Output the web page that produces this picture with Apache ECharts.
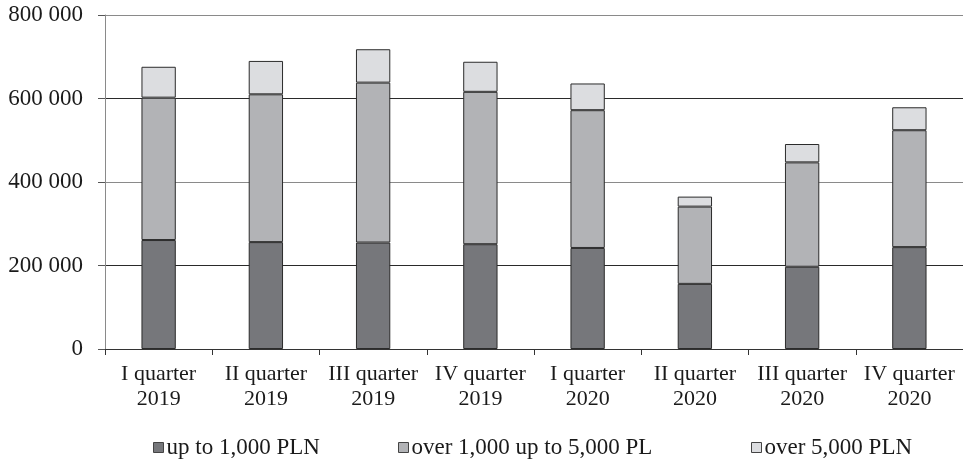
<!DOCTYPE html>
<html>
<head>
<meta charset="utf-8">
<style>
  html, body { margin: 0; padding: 0; background: #fff; }
  #chart { width: 963px; height: 459px; }
</style>
<script src="https://cdn.jsdelivr.net/npm/echarts@6/dist/echarts.min.js"></script>
</head>
<body>
<div id="chart"></div>
<script>
// Quarterly counts by amount bracket (stacked)
const categories = [
  'I quarter\n2019', 'II quarter\n2019', 'III quarter\n2019', 'IV quarter\n2019',
  'I quarter\n2020', 'II quarter\n2020', 'III quarter\n2020', 'IV quarter\n2020'
];
const seriesNames = ['up to 1,000 PLN', 'over 1,000 up to 5,000 PL', 'over 5,000 PLN'];
const upTo1000 = [261000, 256000, 255000, 251000, 242000, 156000, 197000, 244000];
const from1000to5000 = [341000, 354000, 383000, 365000, 330000, 185000, 250000, 280000];
const over5000 = [74000, 80000, 80000, 72000, 64000, 24000, 44000, 55000];
const yTicks = [0, 200000, 400000, 600000, 800000];

const FONT = '"Liberation Serif", "Times New Roman", serif';
const fills = ['#76777b', '#b2b3b6', '#dcdde0'];

const chart = echarts.init(document.getElementById('chart'), null, { renderer: 'canvas' });

function fmt(v) {
  return String(v).replace(/\B(?=(\d{3})+(?!\d))/g, ' ');
}

function barSeries(name, data, i) {
  return {
    name: name,
    type: 'bar',
    stack: 'total',
    data: data,
    barWidth: '32%',
    itemStyle: { color: fills[i], borderColor: '#2b2b2b', borderWidth: 1 },
    emphasis: { disabled: true }
  };
}

function legendAt(name, left) {
  return {
    data: [name],
    left: left,
    top: 431,
    icon: 'rect',
    itemWidth: 10,
    itemHeight: 10,
    itemGap: 0,
    itemStyle: { borderColor: '#444', borderWidth: 1 },
    textStyle: { fontFamily: FONT, fontSize: 23, color: '#1a1a1a', padding: [0, 0, 0, -2] },
    selectedMode: false
  };
}

chart.setOption({
  animation: false,
  backgroundColor: '#ffffff',
  grid: { left: 105, right: 0, top: 15, bottom: 110, containLabel: false },
  legend: [
    legendAt(seriesNames[0], 148),
    legendAt(seriesNames[1], 393),
    legendAt(seriesNames[2], 746)
  ],
  xAxis: {
    type: 'category',
    data: categories,
    boundaryGap: true,
    axisLine: { show: true, lineStyle: { color: '#333', width: 1 } },
    axisTick: { show: true, alignWithLabel: false, length: 6, lineStyle: { color: '#333' } },
    axisLabel: {
      fontFamily: FONT, fontSize: 22, color: '#1a1a1a',
      lineHeight: 25, margin: 13, interval: 0
    }
  },
  yAxis: {
    type: 'value',
    min: yTicks[0],
    max: yTicks[yTicks.length - 1],
    interval: yTicks[1] - yTicks[0],
    axisLine: { show: true, lineStyle: { color: '#8a8a8a', width: 1 } },
    axisTick: { show: true, length: 7, lineStyle: { color: '#555' } },
    axisLabel: {
      fontFamily: FONT, fontSize: 23, color: '#1a1a1a', margin: 22,
      formatter: fmt
    },
    splitLine: { show: true, lineStyle: { color: ['#333', '#2a2a2a', '#8a8a8a', '#2a2a2a', '#8a8a8a'], width: 1 } }
  },
  series: [
    barSeries(seriesNames[0], upTo1000, 0),
    barSeries(seriesNames[1], from1000to5000, 1),
    barSeries(seriesNames[2], over5000, 2)
  ]
});
</script>
</body>
</html>
